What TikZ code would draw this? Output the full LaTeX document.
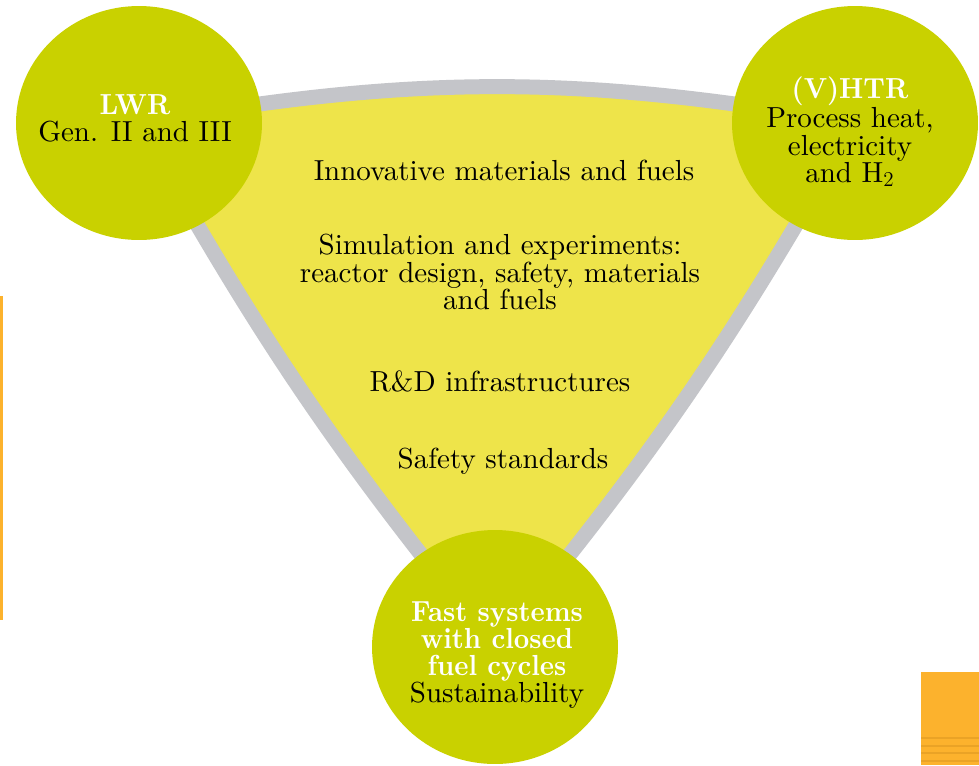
\documentclass[tikz,border=0pt]{standalone}
\usepackage{fontspec}
\setmainfont{lmroman10}[Extension=.otf, UprightFont=*-regular, BoldFont=*-bold,
  ItalicFont=*-italic, BoldItalicFont=*-bolditalic, BoldFeatures={FakeStretch=0.93}]
\usepackage{tikz}
\usetikzlibrary{shapes.geometric}

\definecolor{circlegreen}{RGB}{201,209,0}
\definecolor{fieldyellow}{RGB}{238,228,74}
\definecolor{rimgray}{RGB}{196,197,201}
\definecolor{barorange}{RGB}{252,178,45}
\definecolor{stripeorange}{RGB}{234,163,38}

\begin{document}
\begin{tikzpicture}[x=0.02cm,y=0.02cm,
    font=\fontsize{16.5}{15.5}\selectfont,
    % styles
    field/.style={fill=fieldyellow,draw=rimgray,line width=0.3cm},
    reactor/.style={ellipse,fill=circlegreen,minimum width=4.92cm,minimum height=4.68cm,inner sep=0pt},
    topic/.style={align=center,inner sep=0pt},
    orange bar/.style={fill=barorange},
    stripe/.style={fill=stripeorange}]

  \fill[white] (0,0) rectangle (979,-765);
  \useasboundingbox (0,0) rectangle (979,-765);

  % triangle
  \coordinate (lwr c) at (139,-123);
  \coordinate (htr c) at (855,-123);
  \coordinate (fast c) at (495,-647);
  \draw[field] (lwr c) to[bend left=10] (htr c)
    to[bend left=5] (fast c) to[bend left=5] (lwr c) -- cycle;

  % circles
  \node[reactor] (lwr) at (lwr c) {};
  \node[reactor] (htr) at (htr c) {};
  \node[reactor] (fast) at (fast c) {};

  % circle text
  \node[topic] (lwr text) at (135,-118) {{\bfseries\color{white}LWR}\\Gen. II and III};
  \node[topic] (htr text) at (850,-132) {{\bfseries\color{white}(V)HTR}\\Process heat,\\electricity\\and H$_2$};
  \node[topic] (fast text) at (497,-655) {{\bfseries\color{white}Fast systems}\\
    {\bfseries\color{white}with closed}\\{\bfseries\color{white}fuel cycles}\\Sustainability};

  % topics
  \node[topic] (materials) at (504,-170) {Innovative materials and fuels};
  \node[topic] (simulation) at (500,-272) {Simulation and experiments:\\reactor design, safety, materials\\and fuels};
  \node[topic] (infra) at (500,-381) {R\&D infrastructures};
  \node[topic] (safety) at (503,-461) {Safety standards};

  % orange marks
  \fill[orange bar] (0,-296) rectangle (2.5,-620);
  \fill[orange bar] (921,-672) rectangle (979,-765);
  \foreach \y in {737,745,752,760}
    \fill[stripe] (921,-\y) rectangle (979,-\y-2);
\end{tikzpicture}
\end{document}
